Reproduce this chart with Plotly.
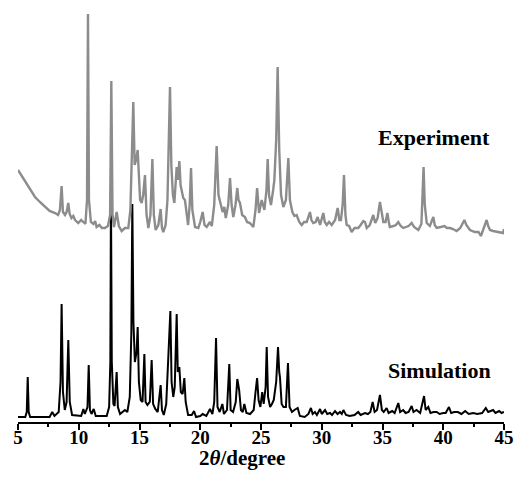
import plotly.graph_objects as go

# Simulated powder pattern: 2θ (degree) and relative intensity (a.u.)
sim_2theta = [
    5.0, 5.6, 5.72, 5.80, 5.88, 6.0, 7.6, 7.82, 8.0, 8.35, 8.50, 8.59, 8.70, 8.85, 9.0, 9.14, 9.26, 9.45,
    10.2, 10.38, 10.5, 10.72, 10.82, 10.92, 11.05, 11.23, 11.4, 12.3, 12.5, 12.6, 12.65, 12.72, 12.85,
    12.95, 13.12, 13.22, 13.4, 13.8, 14.0, 14.2, 14.33, 14.41, 14.5, 14.62, 14.76, 14.85, 14.95, 15.1,
    15.25, 15.4, 15.5, 15.65, 15.85, 16.0, 16.12, 16.3, 16.5, 16.74, 16.85, 17.0, 17.2, 17.32, 17.45,
    17.54, 17.64, 17.78, 17.9, 18.06, 18.15, 18.28, 18.4, 18.55, 18.69, 18.8, 19.0, 19.3, 19.49, 19.65,
    20.0, 20.2, 20.5, 20.8, 21.0, 21.15, 21.30, 21.42, 21.6, 21.82, 21.95, 22.2, 22.39, 22.5, 22.7,
    22.92, 23.05, 23.2, 23.35, 23.5, 23.63, 23.8, 24.1, 24.4, 24.55, 24.68, 24.8, 24.95, 25.1, 25.22,
    25.38, 25.47, 25.58, 25.75, 25.9, 26.05, 26.25, 26.40, 26.5, 26.56, 26.7, 26.85, 27.05, 27.22,
    27.35, 27.55, 27.75, 28.02, 28.2, 28.6, 28.9, 29.11, 29.25, 29.44, 29.6, 29.86, 30.0, 30.27, 30.45,
    30.68, 30.85, 31.09, 31.3, 31.5, 31.65, 31.78, 32.0, 32.3, 32.7, 33.0, 33.2, 33.56, 33.8, 34.0,
    34.19, 34.35, 34.55, 34.79, 34.95, 35.1, 35.34, 35.5, 35.8, 36.0, 36.3, 36.45, 36.7, 36.9, 37.15,
    37.4, 37.55, 37.8, 38.1, 38.42, 38.55, 38.77, 38.95, 39.2, 39.46, 39.7, 40.0, 40.2, 40.47, 40.65,
    40.9, 41.2, 41.5, 41.8, 42.1, 42.47, 42.8, 43.2, 43.5, 43.7, 43.9, 44.1, 44.3, 44.6, 44.8, 45.0,
]
sim_intensity = [
    5, 5, 10, 45, 10, 5, 5, 10, 6, 10, 40, 118, 30, 12, 20, 82, 20, 7,
    6, 13, 8, 15, 57, 12, 8, 13, 6, 6, 15, 60, 229, 60, 18,
    16, 50, 15, 8, 12, 10, 25, 90, 218, 100, 60, 70, 95, 40, 22,
    20, 68, 20, 17, 20, 62, 18, 13, 10, 37, 12, 7, 18, 49, 80,
    111, 40, 25, 35, 108, 50, 55, 30, 28, 44, 20, 7, 7, 11, 5,
    6, 8, 6, 13, 8, 20, 84, 15, 10, 18, 8, 12, 58, 12, 10,
    20, 43, 32, 12, 10, 18, 9, 8, 12, 30, 44, 22, 15, 30, 18,
    35, 75, 25, 15, 18, 22, 40, 75, 50, 45, 18, 15, 15, 59,
    15, 10, 12, 14, 6, 5, 8, 14, 8, 10, 7, 13, 8, 12, 8,
    9, 7, 11, 8, 10, 8, 12, 7, 6, 7, 10, 7, 9, 8, 10,
    20, 10, 12, 27, 12, 10, 14, 9, 11, 9, 19, 10, 12, 9, 10,
    16, 10, 12, 9, 26, 12, 15, 9, 10, 10, 8, 9, 9, 15, 9,
    10, 10, 8, 11, 8, 9, 8, 9, 14, 10, 11, 12, 9, 11, 9, 10,
]

# Measured powder pattern: 2θ (degree) and intensity (a.u.)
exp_2theta = [
    5.0, 5.3, 5.58, 6.0, 6.4, 6.8, 7.22, 7.6, 8.05, 8.3, 8.45, 8.59, 8.7, 8.87, 9.0, 9.14, 9.25, 9.4,
    9.55, 9.7, 9.96, 10.2, 10.38, 10.55, 10.68, 10.76, 10.84, 11.0, 11.2, 11.35, 11.47, 11.7, 11.9,
    12.16, 12.4, 12.58, 12.68, 12.78, 12.9, 13.12, 13.3, 13.53, 13.8, 14.08, 14.25, 14.38, 14.49,
    14.6, 14.72, 14.85, 14.95, 15.05, 15.18, 15.3, 15.45, 15.58, 15.73, 15.9, 16.06, 16.18, 16.33,
    16.55, 16.74, 16.85, 16.96, 17.15, 17.3, 17.42, 17.51, 17.62, 17.75, 17.87, 17.97, 18.06, 18.16,
    18.28, 18.38, 18.47, 18.6, 18.74, 18.88, 19.0, 19.13, 19.24, 19.35, 19.57, 19.84, 20.0, 20.2,
    20.35, 20.53, 20.8, 20.95, 21.15, 21.35, 21.5, 21.7, 21.84, 21.98, 22.1, 22.3, 22.45, 22.58,
    22.72, 22.9, 23.05, 23.15, 23.27, 23.45, 23.68, 23.85, 24.09, 24.37, 24.55, 24.68, 24.84, 25.06,
    25.28, 25.45, 25.55, 25.66, 25.82, 26.0, 26.1, 26.25, 26.37, 26.5, 26.65, 26.84, 27.05, 27.25,
    27.38, 27.58, 27.75, 27.93, 28.15, 28.35, 28.55, 28.76, 29.03, 29.15, 29.3, 29.5, 29.66, 29.86,
    30.13, 30.25, 30.41, 30.6, 30.82, 31.1, 31.31, 31.45, 31.58, 31.72, 31.83, 31.95, 32.05, 32.25,
    32.46, 32.7, 33.01, 33.2, 33.42, 33.56, 33.7, 33.95, 34.1, 34.24, 34.4, 34.6, 34.79, 34.95,
    35.07, 35.25, 35.4, 35.52, 35.6, 35.9, 36.1, 36.3, 36.5, 36.71, 36.95, 37.15, 37.4, 37.6, 37.95,
    38.2, 38.28, 38.38, 38.48, 38.64, 38.9, 39.18, 39.3, 39.46, 39.8, 40.1, 40.3, 40.56, 40.8, 41.1,
    41.4, 41.74, 41.9, 42.2, 42.6, 42.9, 43.1, 43.35, 43.57, 43.7, 43.85, 44.1, 44.4, 44.7, 44.93, 45.0,
]
exp_intensity = [
    72, 66, 60, 52, 45, 40, 35, 31, 29, 27, 32, 56, 30, 27, 30, 39, 28, 24,
    26, 22, 19, 22, 20, 18, 42, 228, 42, 20, 18, 21, 15, 17, 14,
    14, 16, 27, 161, 27, 15, 30, 16, 11, 14, 14, 32, 92, 140,
    77, 82, 92, 57, 42, 39, 47, 67, 27, 14, 27, 83, 27, 12,
    17, 33, 14, 10, 17, 42, 92, 155, 77, 47, 39, 57, 75, 62,
    81, 57, 50, 44, 42, 27, 17, 37, 74, 32, 15, 14, 20, 30,
    17, 15, 20, 16, 37, 96, 47, 37, 30, 35, 24, 37, 64, 37,
    25, 37, 54, 42, 39, 27, 25, 20, 19, 15, 32, 54, 29, 42,
    32, 52, 83, 47, 37, 52, 62, 102, 175, 92, 47, 35, 42, 84,
    42, 30, 26, 27, 20, 17, 20, 20, 30, 22, 19, 20, 25, 17,
    29, 20, 17, 20, 17, 22, 34, 22, 22, 37, 67, 27, 17, 16,
    10, 14, 14, 17, 21, 20, 14, 17, 22, 27, 19, 24, 40, 27,
    20, 20, 29, 20, 15, 16, 17, 20, 16, 14, 15, 16, 19, 15, 12,
    18, 42, 75, 37, 19, 16, 25, 17, 14, 15, 16, 14, 14, 13, 11,
    14, 22, 17, 12, 10, 10, 6, 14, 22, 16, 12, 11, 10, 9, 9, 13,
]

EXP_OFFSET = 180  # vertical shift so the measured trace sits above the simulation

SERIF = "Liberation Serif"

fig = go.Figure()
fig.add_trace(go.Scatter(
    x=sim_2theta, y=sim_intensity, mode="lines",
    line=dict(color="#000000", width=2),
    name="Simulation", showlegend=False, hoverinfo="skip",
))
fig.add_trace(go.Scatter(
    x=exp_2theta, y=[v + EXP_OFFSET for v in exp_intensity], mode="lines",
    line=dict(color="#8c8c8c", width=2.4),
    name="Experiment", showlegend=False, hoverinfo="skip",
))

fig.add_annotation(x=44.0, y=285, xref="x", yref="y", text="<b>Experiment</b>",
                   showarrow=False, xanchor="right", yanchor="middle",
                   font=dict(family=SERIF, size=22, color="black"))
fig.add_annotation(x=44.1, y=52, xref="x", yref="y", text="<b>Simulation</b>",
                   showarrow=False, xanchor="right", yanchor="middle",
                   font=dict(family=SERIF, size=22, color="black"))
fig.add_annotation(x=23.4, y=-0.085, xref="x", yref="paper",
                   text="<b>2<i>θ</i>/degree</b>",
                   showarrow=False, xanchor="center", yanchor="middle",
                   font=dict(family=SERIF, size=21, color="black"))

fig.update_xaxes(
    range=[5, 45], tick0=5, dtick=5,
    showline=True, linecolor="black", linewidth=2,
    ticks="outside", ticklen=6, tickwidth=1.5, tickcolor="black",
    tickfont=dict(family=SERIF, size=19, color="black"),
    ticklabelstandoff=-9,
    tickprefix="<b>", ticksuffix="</b>",
    showgrid=False, zeroline=False,
    minor=dict(dtick=2.5, tick0=5, ticks="outside", ticklen=3, tickwidth=1.5,
               tickcolor="black", showgrid=False),
)
fig.update_yaxes(range=[0, 422], visible=False, showgrid=False, zeroline=False)

fig.update_layout(
    width=518, height=479,
    margin=dict(l=18, r=14, t=0, b=57),
    paper_bgcolor="white", plot_bgcolor="white",
    font=dict(family=SERIF),
)

fig.write_html("out.html")
